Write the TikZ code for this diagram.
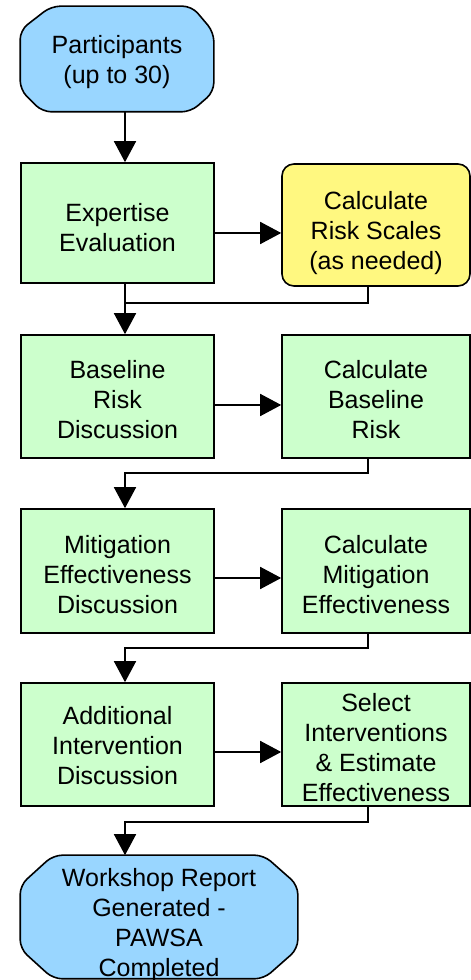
\documentclass[tikz,border=0pt]{standalone}
\usepackage{fontspec}
\setmainfont{Liberation Sans}
\usetikzlibrary{arrows.meta,backgrounds}

\begin{document}
\begin{tikzpicture}[x=1pt,y=1pt]
\tikzstyle{every path}=[line width=1.6pt]
\tikzstyle{every node}=[align=center,font=\fontsize{25}{30}\selectfont,inner sep=0pt]
\tikzstyle{lift}=[text depth=0pt,text height=#1]
\tikzstyle{box}=[rectangle,draw,fill=green!20,minimum width=193pt,minimum height=123pt]
\tikzstyle{rbox}=[box,minimum width=188pt]
\tikzstyle{calc}=[rbox,fill=yellow!50,rounded corners=12pt]
\tikzstyle{term}=[draw,fill=blue!40!cyan!40,rounded corners=9pt]
\tikzstyle{arr}=[-{Triangle[width=22pt,length=21pt]}]

\useasboundingbox (0,0) rectangle (471,980);

% left column
\node (part) at (117,921) [minimum width=192pt,minimum height=104pt,lift=49pt] {Participants\\(up to 30)};
\node (expert) at (117.5,757) [box,minimum height=120pt,lift=58pt] {Expertise\\Evaluation};
\node (baseline) at (117.5,583.5) [box,lift=84pt] {Baseline\\Risk\\Discussion};
\node (mitig) at (117.5,409) [box,minimum height=124pt,lift=86pt] {Mitigation\\Effectiveness\\Discussion};
\node (addit) at (117.5,235.5) [box,lift=80pt] {Additional\\Intervention\\Discussion};
\node (report) at (159,63) [minimum width=276pt,minimum height=122pt,lift=119pt] {Workshop Report\\Generated -\\PAWSA\\Completed};

% right column
\node (scales) at (376,755) [calc,minimum height=122pt,lift=89pt] {Calculate\\Risk Scales\\(as needed)};
\node (calcbase) at (376,583.5) [rbox,lift=84pt] {Calculate\\Baseline\\Risk};
\node (calcmit) at (376,409) [rbox,minimum height=124pt,lift=86pt] {Calculate\\Mitigation\\Effectiveness};
\node (select) at (376,235.5) [rbox,lift=115pt] {Select\\Interventions\\\& Estimate\\Effectiveness};

\begin{scope}[on background layer]
\draw[term] ([xshift=31pt]part.north west) -- ([xshift=-22pt]part.north east)
  -- ([yshift=-26pt]part.north east) -- ([yshift=20pt]part.south east)
  -- ([xshift=-23pt]part.south east) -- ([xshift=22pt]part.south west)
  -- ([yshift=22pt]part.south west) -- ([yshift=-24pt]part.north west) -- cycle;
\draw[term] ([xshift=33pt]report.north west) -- ([xshift=-34pt]report.north east)
  -- ([yshift=-30pt]report.north east) -- ([yshift=30pt]report.south east)
  -- ([xshift=-34pt]report.south east) -- ([xshift=33pt]report.south west)
  -- ([yshift=30pt]report.south west) -- ([yshift=-30pt]report.north west) -- cycle;
\end{scope}

\coordinate (j1) at (125,677);
\coordinate (j2) at (125,507);
\coordinate (j3) at (125,332);
\coordinate (j4) at (125,158);

\draw[arr] (part.south -| j1) -- (expert.north -| j1);
\draw[arr] ([yshift=-10pt]expert.east) -- ([yshift=-10pt]expert.east -| scales.west);
\draw[arr] (expert.south -| j1) -- (baseline.north -| j1);
\draw ([xshift=-8pt]scales.south) |- (j1);
\draw[arr] ([yshift=-8.5pt]baseline.east) -- ([yshift=-8.5pt]baseline.east -| calcbase.west);
\draw[arr] ([xshift=-8pt]calcbase.south) |- (j2) -- (mitig.north -| j2);
\draw[arr] ([yshift=-7pt]mitig.east) -- ([yshift=-7pt]mitig.east -| calcmit.west);
\draw[arr] ([xshift=-8pt]calcmit.south) |- (j3) -- (addit.north -| j3);
\draw[arr] ([yshift=-7.5pt]addit.east) -- ([yshift=-7.5pt]addit.east -| select.west);
\draw[arr] ([xshift=-8pt]select.south) |- (j4) -- (report.north -| j4);

\end{tikzpicture}
\end{document}
